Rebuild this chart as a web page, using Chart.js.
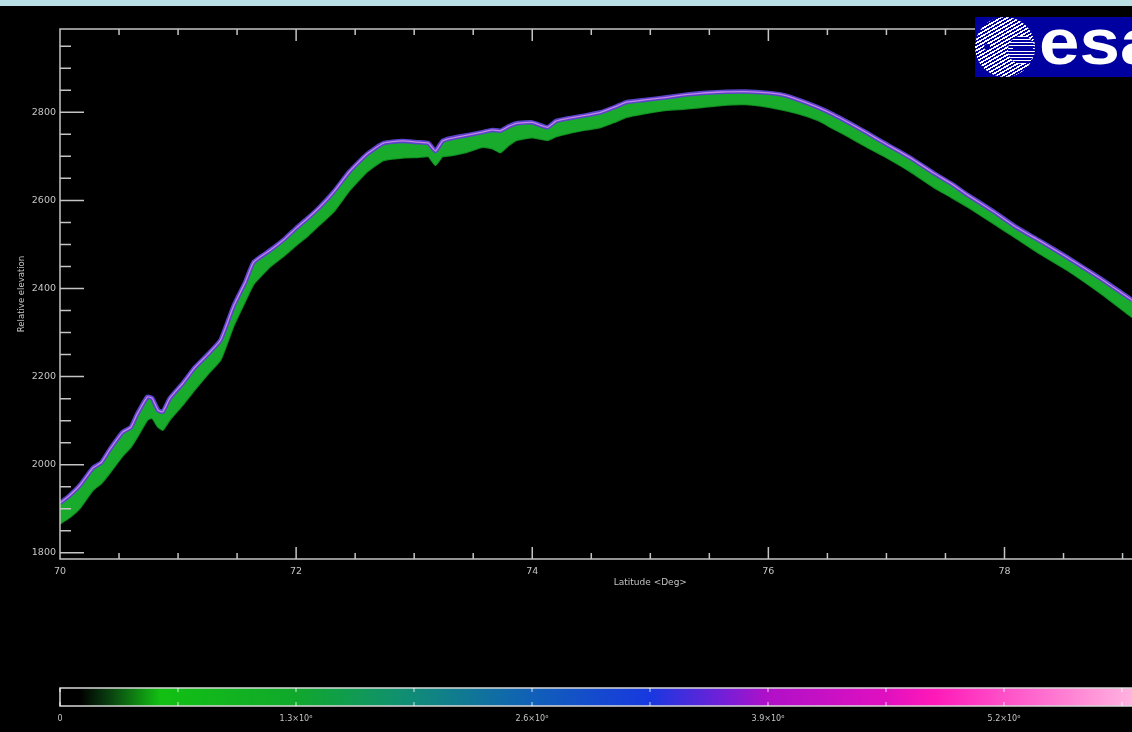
<!DOCTYPE html>
<html lang="en">
<head>
<meta charset="utf-8">
<title>Relative elevation</title>
<script src="https://cdn.jsdelivr.net/npm/chart.js@4"></script>
<style>
  html, body { margin: 0; padding: 0; background: #000; overflow: hidden; }
  body { width: 1132px; height: 732px; position: relative; }
  .strip { position: absolute; left: 0; top: 0; width: 1132px; height: 6px; background: #b9dfe5; }
  #main { position: absolute; left: 0; top: 0; }
  #bar { position: absolute; left: 0; top: 680px; }
  .logo { position: absolute; left: 975px; top: 17px; width: 200px; height: 60px; background: #0000a0; overflow: hidden; }
  .logo .ring { position: absolute; left: 0; top: 0; width: 60px; height: 60px; border-radius: 50%;
    background: repeating-linear-gradient(150deg, #fff 0 1.6px, #0000a0 1.6px 3.2px); }
  .logo .inner { position: absolute; left: 33px; top: 19px; width: 27px; height: 28px; border-radius: 50%;
    background: repeating-linear-gradient(0deg, #fff 0 1.4px, #0000a0 1.4px 3px); }
  .logo .bar { position: absolute; left: 38px; top: 31px; width: 20px; height: 3px; background: #0000a0; }
  .logo .dot { position: absolute; left: 9px; top: 27px; width: 6px; height: 6px; border-radius: 50%; background: #0000a0; }
  .logo .txt { position: absolute; left: 64px; top: -8px; font: bold 65px/65px "Liberation Sans", Arial, sans-serif;
    color: #fff; transform: scaleX(1.12); transform-origin: 0 0; }
</style>
</head>
<body>
<div class="strip"></div>
<canvas id="main" width="1132" height="592"></canvas>
<canvas id="bar" width="1132" height="52"></canvas>
<div class="logo"><div class="ring"></div><div class="inner"></div><div class="bar"></div><div class="dot"></div><span class="txt">esa</span></div>

<script>
// latitude (deg) and the upper / lower edge of the elevation band
const latitude = [70.0, 70.08, 70.17, 70.28, 70.35, 70.42, 70.53, 70.6, 70.65, 70.74, 70.78, 70.83, 70.87, 70.93,
  71.04, 71.14, 71.25, 71.36, 71.47, 71.57, 71.64, 71.78, 71.9, 72.0, 72.1, 72.2, 72.32, 72.45, 72.6, 72.74,
  72.9, 73.03, 73.12, 73.18, 73.24, 73.31, 73.45, 73.58, 73.66, 73.73, 73.8, 73.87, 74.0, 74.13, 74.2, 74.3,
  74.45, 74.58, 74.7, 74.8, 74.95, 75.14, 75.3, 75.42, 75.6, 75.8, 76.0, 76.13, 76.28, 76.42, 76.55, 76.69,
  76.83, 76.97, 77.2, 77.4, 77.55, 77.69, 77.9, 78.1, 78.3, 78.53, 78.8, 79.08];
const upperEdge = [1913, 1930, 1954, 1993, 2005, 2034, 2074, 2085, 2113, 2154, 2151, 2124, 2120, 2151,
  2185, 2220, 2250, 2283, 2360, 2415, 2460, 2487, 2512, 2537, 2560, 2585, 2620, 2665, 2705, 2730,
  2735, 2732, 2730, 2712, 2735, 2741, 2748, 2755, 2760, 2758, 2768, 2775, 2777, 2766, 2780, 2786,
  2793, 2800, 2812, 2823, 2828, 2834, 2840, 2843, 2846, 2847, 2844, 2839, 2826, 2811, 2795, 2775,
  2754, 2732, 2697, 2662, 2638, 2612, 2576, 2539, 2508, 2471, 2425, 2374];
const lowerEdge = [1866, 1880, 1902, 1943, 1958, 1981, 2020, 2040, 2061, 2102, 2106, 2086, 2079, 2102,
  2136, 2170, 2205, 2238, 2315, 2372, 2410, 2450, 2475, 2498, 2520, 2545, 2575, 2622, 2665, 2691,
  2697, 2698, 2700, 2680, 2700, 2702, 2710, 2721, 2718, 2709, 2725, 2737, 2743, 2737, 2745, 2752,
  2760, 2766, 2778, 2789, 2797, 2805, 2808, 2811, 2816, 2818, 2812, 2805, 2795, 2782, 2763, 2743,
  2722, 2702, 2666, 2630, 2607, 2585, 2549, 2514, 2479, 2442, 2392, 2335];

const yLabels = [1800, 2000, 2200, 2400, 2600, 2800];
const xLabels = [70, 72, 74, 76, 78];
const colorbarLabels = ['0', '1.3×10⁶', '2.6×10⁶', '3.9×10⁶', '5.2×10⁶'];
const colorbarMax = 6.5e6;

const textColor = '#c4c4c4';
const lineColor = '#c4c4c4';

const yTickValues = [];
for (let v = 1800; v <= 2950; v += 50) yTickValues.push(v);
const xTickValues = [];
for (let v = 70; v <= 79; v += 0.5) xTickValues.push(v);
const cbTickValues = [];
for (let i = 0; i < 10; i++) cbTickValues.push(i * 0.65e6);

const pts = arr => latitude.map((x, i) => ({ x: x, y: arr[i] }));

// frame, inward ticks and axis titles
const frame = {
  id: 'frame',
  afterDatasetsDraw(chart) {
    const { ctx, chartArea: a, scales: { x, y } } = chart;
    ctx.save();
    ctx.strokeStyle = lineColor;
    ctx.lineWidth = 1.5;
    ctx.beginPath();
    ctx.moveTo(a.right + 2, a.top); ctx.lineTo(a.left, a.top);
    ctx.lineTo(a.left, a.bottom); ctx.lineTo(a.right + 2, a.bottom);
    y.ticks.forEach(t => {
      const py = y.getPixelForValue(t.value);
      const len = yLabels.includes(t.value) ? 24 : 11;
      ctx.moveTo(a.left, py); ctx.lineTo(a.left + len, py);
    });
    x.ticks.forEach(t => {
      const px = x.getPixelForValue(t.value);
      const len = xLabels.includes(t.value) ? 12 : 6;
      ctx.moveTo(px, a.bottom); ctx.lineTo(px, a.bottom - len);
      ctx.moveTo(px, a.top); ctx.lineTo(px, a.top + len);
    });
    ctx.stroke();

    ctx.fillStyle = textColor;
    ctx.font = '9px "DejaVu Sans"';
    ctx.textAlign = 'center';
    ctx.textBaseline = 'middle';
    ctx.fillText('Latitude <Deg>', x.getPixelForValue(75), a.bottom + 24);
    ctx.translate(22, (a.top + a.bottom) / 2);
    ctx.rotate(-Math.PI / 2);
    ctx.font = '8.5px "DejaVu Sans"';
    ctx.fillText('Relative elevation', 0, 0);
    ctx.restore();
  }
};

new Chart(document.getElementById('main'), {
  type: 'line',
  data: {
    datasets: [{
      data: pts(lowerEdge),
      borderColor: '#0f8c1f',
      borderWidth: 2,
      pointRadius: 0,
      tension: 0.15,
      fill: false,
      order: 3
    }, {
      data: pts(upperEdge),
      borderColor: '#5a44cc',
      borderWidth: 4.5,
      backgroundColor: '#19ab2b',
      pointRadius: 0,
      tension: 0.15,
      fill: '-1',
      order: 2
    }, {
      data: pts(upperEdge),
      borderColor: '#c783e6',
      borderWidth: 1.3,
      pointRadius: 0,
      tension: 0.15,
      fill: false,
      order: 1
    }]
  },
  options: {
    responsive: false,
    animation: false,
    layout: { padding: { top: 29, left: 0, right: 0, bottom: 0 } },
    plugins: { legend: { display: false }, tooltip: { enabled: false } },
    scales: {
      x: {
        type: 'linear',
        min: 70,
        max: 79.08,
        afterFit(s) { s.height = 33; },
        afterBuildTicks(s) { s.ticks = xTickValues.map(v => ({ value: v })); },
        grid: { display: false, drawTicks: false },
        border: { display: false },
        ticks: {
          autoSkip: false,
          maxRotation: 0,
          padding: 7,
          color: textColor,
          font: { family: 'DejaVu Sans', size: 9.5 },
          callback: v => xLabels.includes(v) ? String(v) : ''
        }
      },
      y: {
        min: 1786,
        max: 2989,
        afterFit(s) { s.width = 60; },
        afterBuildTicks(s) { s.ticks = yTickValues.map(v => ({ value: v })); },
        grid: { display: false, drawTicks: false },
        border: { display: false },
        ticks: {
          autoSkip: false,
          padding: 4,
          color: textColor,
          font: { family: 'DejaVu Sans', size: 9.5 },
          callback: v => yLabels.includes(v) ? String(v) : ''
        }
      }
    }
  },
  plugins: [frame]
});

// colour bar
const barFrame = {
  id: 'barFrame',
  afterDatasetsDraw(chart) {
    const { ctx, chartArea: a, scales: { x } } = chart;
    ctx.save();
    ctx.strokeStyle = '#d8d8d8';
    ctx.lineWidth = 1.5;
    ctx.beginPath();
    ctx.moveTo(a.right + 2, a.top); ctx.lineTo(a.left, a.top);
    ctx.lineTo(a.left, a.bottom); ctx.lineTo(a.right + 2, a.bottom);
    ctx.stroke();
    ctx.strokeStyle = 'rgba(255,255,255,0.8)';
    ctx.lineWidth = 1;
    ctx.beginPath();
    x.ticks.forEach(t => {
      const px = x.getPixelForValue(t.value);
      ctx.moveTo(px, a.top); ctx.lineTo(px, a.top + 4);
      ctx.moveTo(px, a.bottom); ctx.lineTo(px, a.bottom - 4);
    });
    ctx.stroke();
    ctx.restore();
  }
};

function barGradient(c) {
  const chart = c.chart;
  if (!chart.chartArea) return null;
  const xs = chart.scales.x;
  const g = chart.ctx.createLinearGradient(xs.getPixelForValue(0), 0, xs.getPixelForValue(colorbarMax), 0);
  g.addColorStop(0, '#000000');
  g.addColorStop(0.017, '#000000');
  g.addColorStop(0.042, '#0a4010');
  g.addColorStop(0.085, '#12c012');
  g.addColorStop(0.2, '#10a82c');
  g.addColorStop(0.288, '#109070');
  g.addColorStop(0.4, '#1060b8');
  g.addColorStop(0.5, '#1838e0');
  g.addColorStop(0.56, '#7020d8');
  g.addColorStop(0.6, '#b010c8');
  g.addColorStop(0.7, '#e010c0');
  g.addColorStop(0.74, '#ff18b8');
  g.addColorStop(0.8, '#ff50c8');
  g.addColorStop(0.91, '#ffb4e0');
  g.addColorStop(1, '#ffe0f4');
  return g;
}

new Chart(document.getElementById('bar'), {
  type: 'bar',
  data: {
    labels: [''],
    datasets: [{
      data: [colorbarMax],
      backgroundColor: barGradient,
      borderWidth: 0,
      barPercentage: 1,
      categoryPercentage: 1
    }]
  },
  options: {
    indexAxis: 'y',
    responsive: false,
    animation: false,
    layout: { padding: { top: 8, left: 60, right: 0, bottom: 0 } },
    plugins: { legend: { display: false }, tooltip: { enabled: false } },
    scales: {
      y: { display: false },
      x: {
        type: 'linear',
        min: 0,
        max: 5.905e6,
        afterFit(s) { s.height = 26; },
        afterBuildTicks(s) { s.ticks = cbTickValues.map(v => ({ value: v })); },
        grid: { display: false, drawTicks: false },
        border: { display: false },
        ticks: {
          autoSkip: false,
          maxRotation: 0,
          padding: 8,
          color: textColor,
          font: { family: 'DejaVu Sans', size: 8 },
          callback: (v, i) => i % 2 === 0 ? colorbarLabels[i / 2] : ''
        }
      }
    }
  },
  plugins: [barFrame]
});
</script>
</body>
</html>
